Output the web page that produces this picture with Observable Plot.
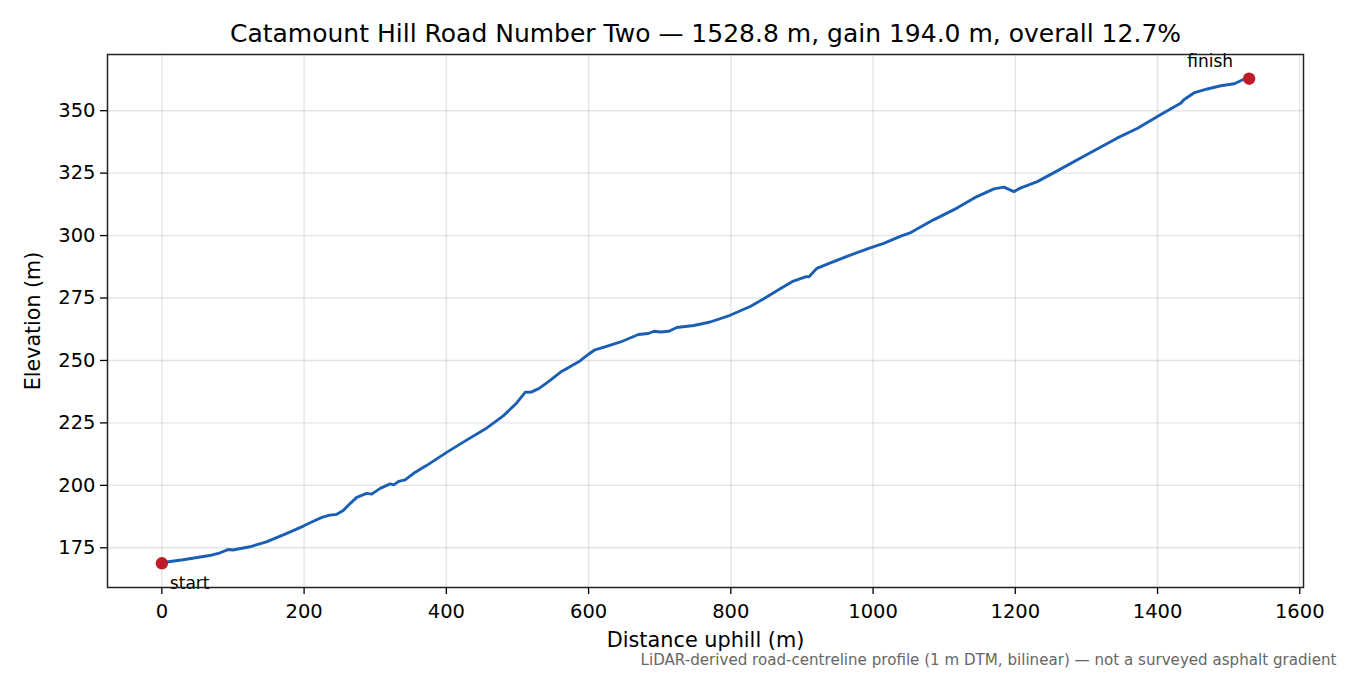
<!DOCTYPE html>
<html>
<head>
<meta charset="utf-8">
<script src="https://cdn.jsdelivr.net/npm/d3@7"></script>
<script src="https://cdn.jsdelivr.net/npm/@observablehq/plot@0.6"></script>
<style>
  html, body { margin: 0; padding: 0; background: #fff; }
  #chart { width: 1350px; height: 675px; }
</style>
</head>
<body>
<div id="chart"></div>
<script>
const titleText = "Catamount Hill Road Number Two — 1528.8 m, gain 194.0 m, overall 12.7%";
const captionText = "LiDAR-derived road-centreline profile (1 m DTM, bilinear) — not a surveyed asphalt gradient";
const xLabel = "Distance uphill (m)";
const yLabel = "Elevation (m)";

const distance = [0, 7, 30, 67, 82, 93, 100, 105, 124, 147, 175, 199, 213, 225, 236, 246, 255, 265, 274, 288, 295, 307, 321, 326, 333, 342, 354, 372, 401, 429, 457, 480, 499, 511, 520, 530, 546, 562, 588, 600, 608, 623, 645, 670, 684, 692, 701, 713, 724, 748, 771, 799, 828, 851, 870, 888, 905, 910, 921, 940, 968, 996, 1015, 1039, 1053, 1085, 1118, 1146, 1170, 1184, 1198, 1207, 1231, 1259, 1297, 1343, 1372, 1404, 1433, 1437, 1451, 1470, 1489, 1508, 1522, 1528.8];
const elevation = [168.8, 169.3, 170.2, 171.9, 173, 174.3, 174.1, 174.4, 175.4, 177.4, 180.7, 183.7, 185.6, 187.2, 188.1, 188.4, 189.9, 192.8, 195.2, 196.8, 196.5, 198.8, 200.6, 200.2, 201.6, 202.2, 204.8, 207.9, 213.3, 218.2, 223, 227.8, 233, 237.3, 237.4, 238.7, 242, 245.6, 249.8, 252.5, 254.1, 255.4, 257.4, 260.4, 260.8, 261.7, 261.4, 261.7, 263.2, 264, 265.4, 268.1, 271.7, 275.5, 278.8, 281.8, 283.5, 283.5, 286.9, 289.1, 292.2, 295.1, 296.9, 299.8, 301.2, 306.3, 311, 315.6, 318.7, 319.4, 317.6, 319, 321.6, 325.9, 331.9, 339, 343, 348.4, 353.1, 354.4, 357.1, 358.7, 360, 360.8, 362.7, 362.8];

const endpointLabels = ["start", "finish"];
const xTicks = [0, 200, 400, 600, 800, 1000, 1200, 1400, 1600];
const yTicks = [175, 200, 225, 250, 275, 300, 325, 350];

const profile = distance.map((d, i) => ({d, e: elevation[i]}));
const last = profile.length - 1;
const startPt = [{d: distance[0], e: elevation[0], label: endpointLabels[0]}];
const finishPt = [{d: distance[last], e: elevation[last], label: endpointLabels[1]}];

const xMin = d3.min(distance), xMax = d3.max(distance);
const yMin = d3.min(elevation), yMax = d3.max(elevation);
const xPad = (xMax - xMin) * 0.05, yPad = (yMax - yMin) * 0.05;

const chart = Plot.plot({
  width: 1350,
  height: 675,
  marginLeft: 107,
  marginRight: 47,
  marginTop: 54,
  marginBottom: 88,
  style: {fontFamily: "DejaVu Sans", fontSize: "19.5px", color: "#000", background: "#fff"},
  x: {domain: [xMin - xPad, xMax + xPad]},
  y: {domain: [yMin - yPad, yMax + yPad]},
  marks: [
    Plot.gridX(xTicks, {stroke: "#000", strokeOpacity: 0.1, strokeWidth: 1.4}),
    Plot.gridY(yTicks, {stroke: "#000", strokeOpacity: 0.1, strokeWidth: 1.4}),
    Plot.axisX(xTicks, {tickSize: 7, tickPadding: 10, fontSize: 19.5, label: null, strokeWidth: 1.3, tickFormat: d => String(d)}),
    Plot.axisY(yTicks, {tickSize: 7, tickPadding: 5, fontSize: 19.5, label: null, strokeWidth: 1.3, tickFormat: d => String(d)}),
    Plot.line(profile, {x: "d", y: "e", stroke: "#1a5fb4", strokeWidth: 2.9}),
    Plot.dot(startPt, {x: "d", y: "e", r: 6.2, fill: "#c01c28"}),
    Plot.dot(finishPt, {x: "d", y: "e", r: 6.2, fill: "#c01c28"}),
    Plot.text(startPt, {x: "d", y: "e", text: "label", dx: 8, dy: 20, textAnchor: "start", lineAnchor: "middle", fontSize: 17}),
    Plot.text(finishPt, {x: "d", y: "e", text: "label", dx: -16, dy: -17, textAnchor: "end", lineAnchor: "middle", fontSize: 17}),
    Plot.frame({stroke: "#222", strokeWidth: 1.5}),
    Plot.text([titleText], {frameAnchor: "top", dy: -21, lineAnchor: "middle", textAnchor: "middle", fontSize: 25, fill: "#000"}),
    Plot.text([xLabel], {frameAnchor: "bottom", dy: 53, lineAnchor: "middle", textAnchor: "middle", fontSize: 20.8, fill: "#000"}),
    Plot.text([yLabel], {frameAnchor: "left", dx: -74, rotate: -90, lineAnchor: "middle", textAnchor: "middle", fontSize: 20.6, fill: "#000"}),
    Plot.text([captionText], {frameAnchor: "bottom-right", dx: 33, dy: 73, lineAnchor: "middle", textAnchor: "end", fontSize: 15.1, fill: "#666"})
  ]
});
document.getElementById("chart").appendChild(chart);
</script>
</body>
</html>
